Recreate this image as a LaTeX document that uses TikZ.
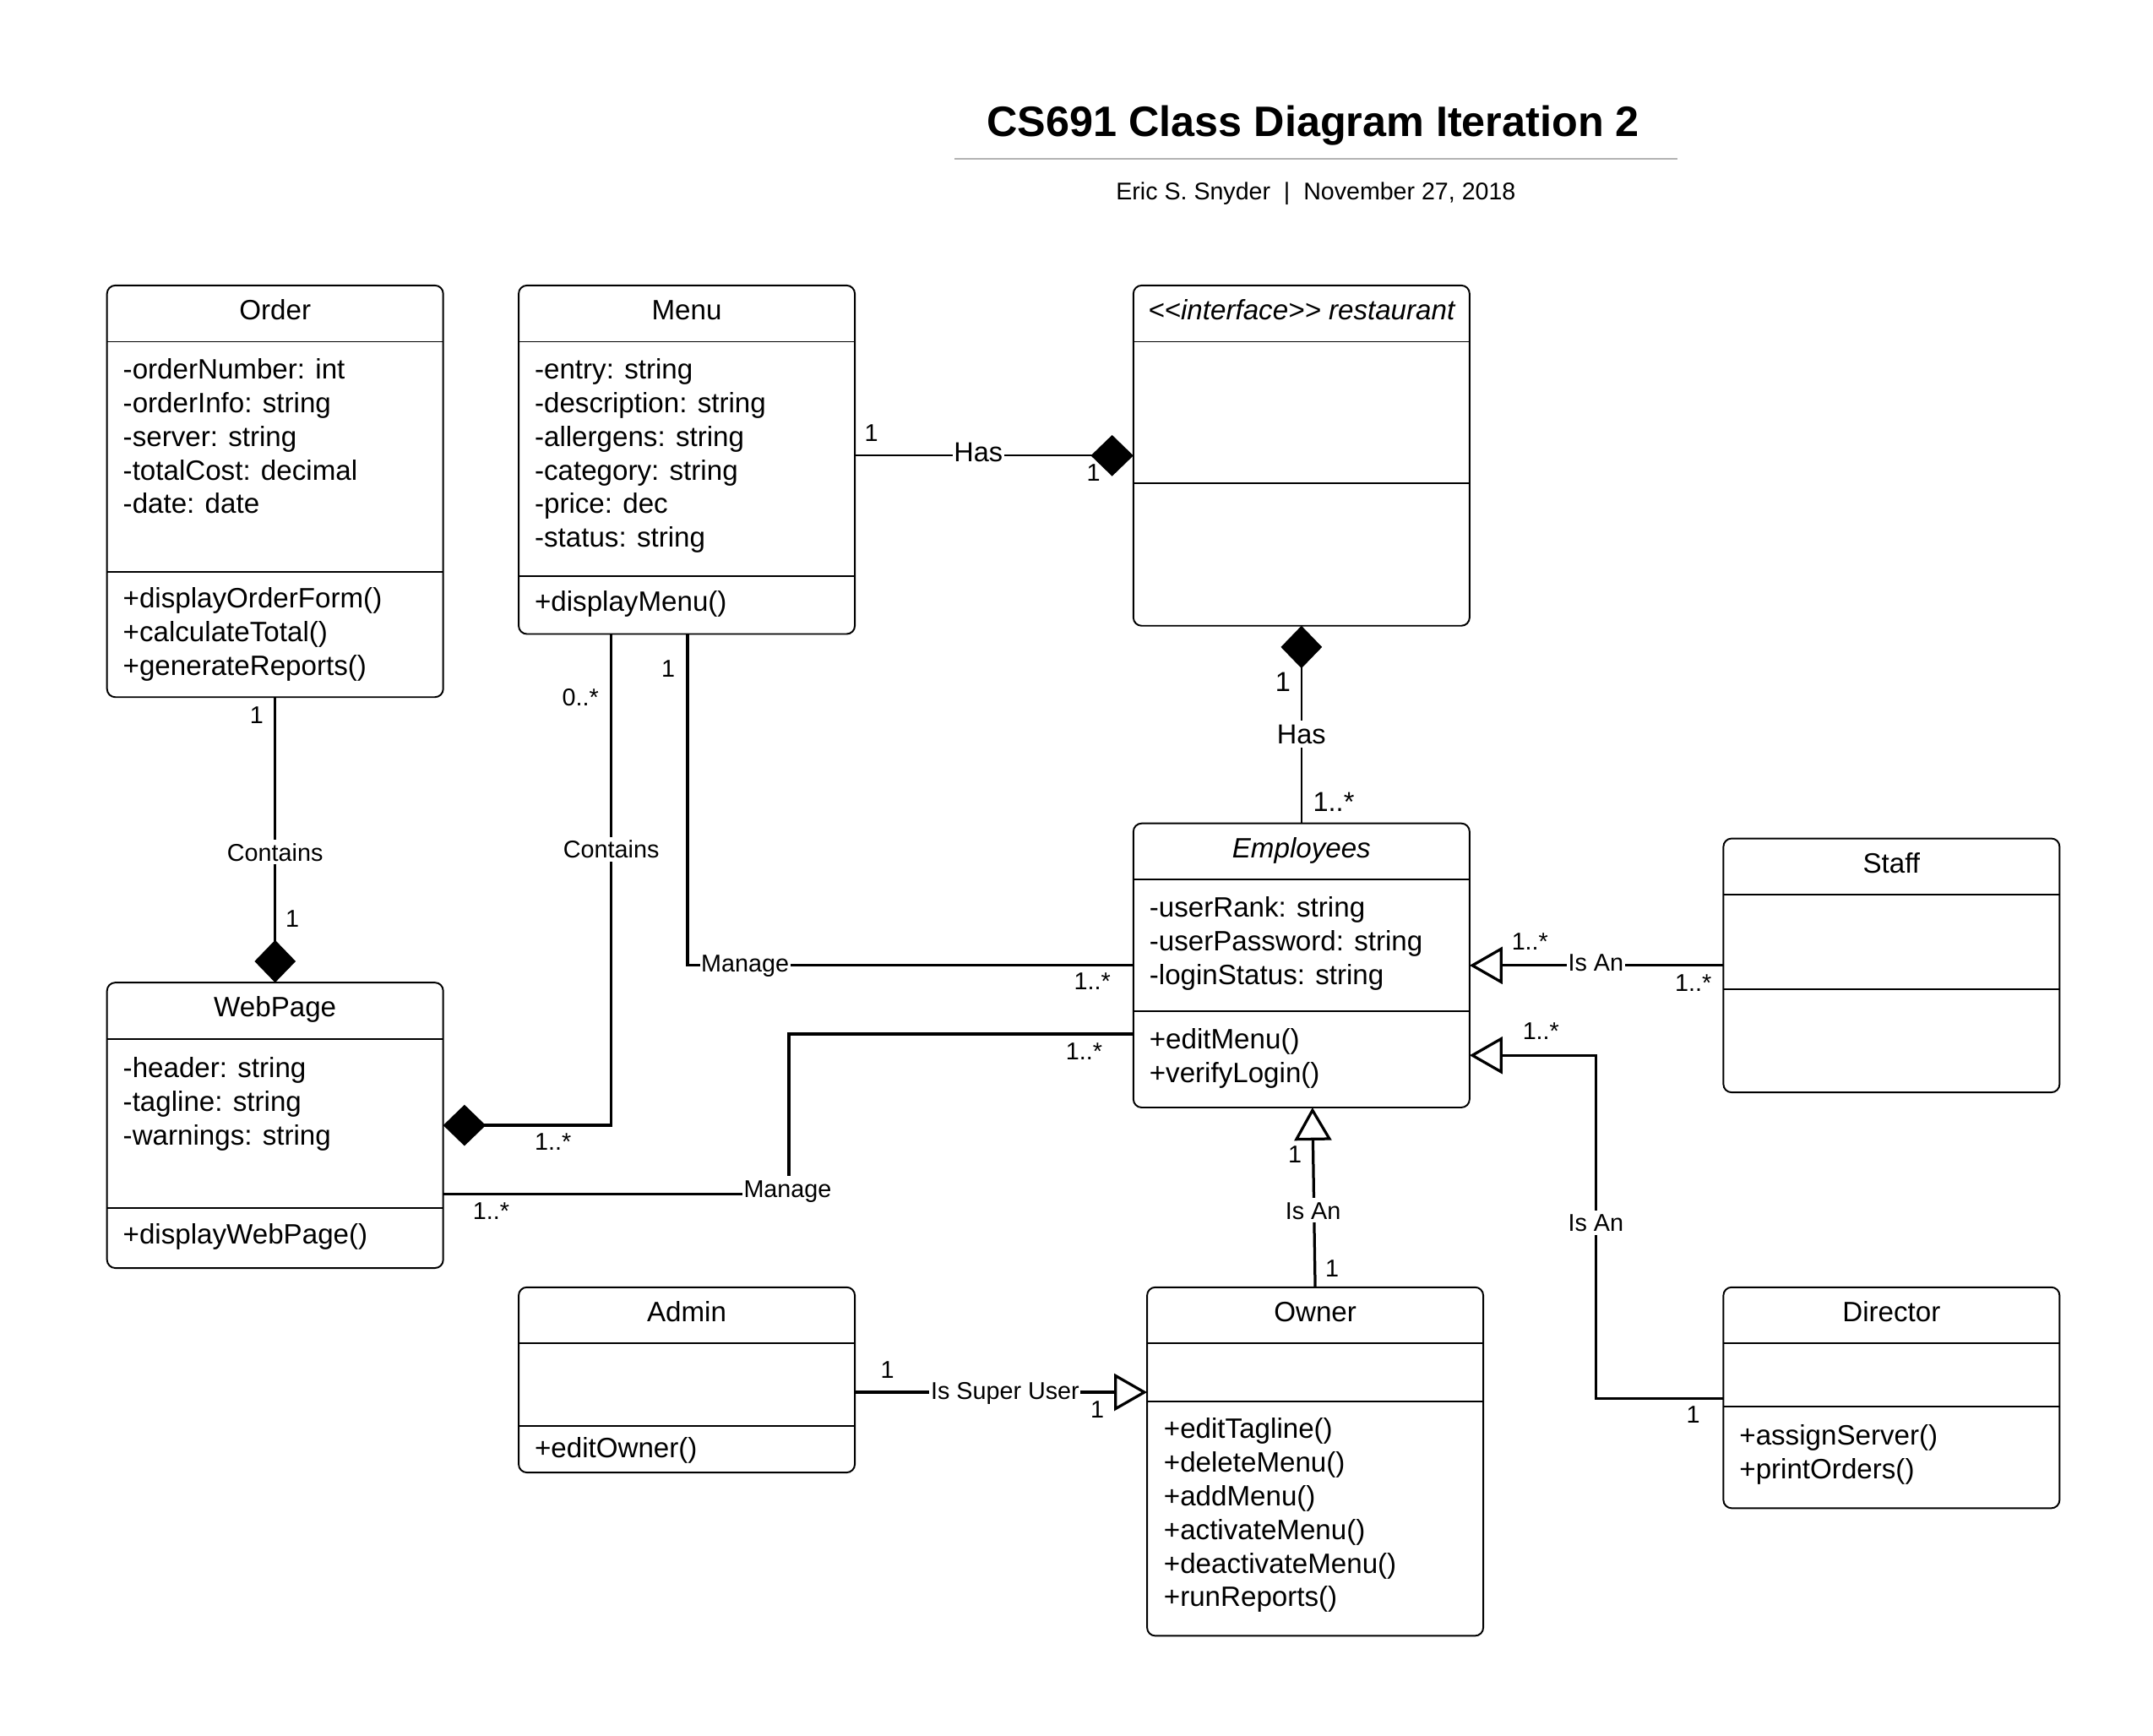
\documentclass[tikz,border=0pt]{standalone}
\usepackage{fontspec}
\setmainfont{Liberation Sans}
\usetikzlibrary{arrows.meta}
\definecolor{rulegray}{RGB}{179,179,179}
\tikzset{
  classbox/.style={draw, line width=1.2pt, rounded corners=6pt, minimum width=245pt, anchor=north west, inner sep=0pt, outer sep=0pt},
  boxline/.style={line width=1.2pt},
  ctitle/.style={anchor=base, inner sep=0pt, font=\fontsize{20.4}{24.5}\selectfont},
  ctext/.style={anchor=north west, align=left, inner sep=0pt, yshift=17.15pt, font=\fontsize{20.4}{24.5}\selectfont},
  conn/.style={line width=2pt},
  thinconn/.style={line width=1.2pt},
  mult/.style={inner sep=0pt, font=\fontsize{17.7}{20}\selectfont, text height=12.7pt, text depth=0pt},
  multbig/.style={inner sep=0pt, font=\fontsize{20}{24}\selectfont, text height=14.3pt, text depth=0pt},
  lbl/.style={mult, fill=white, inner xsep=1pt, inner ysep=2.5pt},
  lblbig/.style={multbig, fill=white, inner xsep=1pt, inner ysep=2.5pt},
  diamondend/.style={-{Diamond[length=31pt,width=30pt]}},
  diamondstart/.style={{Diamond[length=31pt,width=30pt]}-},
  inherit/.style={-{Triangle[open,length=24pt,width=27pt]}},
}
\newcommand{\umlbox}[6]{%
  \node[classbox, minimum height=#4pt] (#1) at (#2,#3) {};
  \draw[boxline] (#1.west |- 0,#5) -- (#1.east |- 0,#5);
  \draw[boxline] (#1.west |- 0,#6) -- (#1.east |- 0,#6);
}
\begin{document}
\begin{tikzpicture}[x=1pt,y=-1pt]
\fill[white] (0,0) rectangle (1569.1,1265);
\useasboundingbox (0,0) rectangle (1569.1,1265);

% title
\node[anchor=base, inner sep=0pt, font=\fontsize{31}{36}\selectfont\bfseries] (title) at (957,99.5) {CS691 Class Diagram Iteration 2};
\draw[rulegray, line width=1.6pt] (695.8,115.8) -- (1222.6,115.8);
\node[anchor=base, inner sep=0pt, font=\fontsize{17.6}{21}\selectfont] (subtitle) at (959,145.7) {Eric S. Snyder\ \ |\ \ November 27, 2018};

% Order
\umlbox{order}{78}{208}{300}{249}{417}
\node[ctitle] (order-t) at (200.5,233) {Order};
\node[ctext] (order-a) at (89.5,276) {\strut-orderNumber: int\\-orderInfo: string\\-server: string\\-totalCost: decimal\\-date: date};
\node[ctext] (order-m) at (89.5,443) {\strut+displayOrderForm()\\+calculateTotal()\\+generateReports()};

% Menu
\umlbox{menu}{378}{208}{254}{249}{420}
\node[ctitle] (menu-t) at (500.5,233) {Menu};
\node[ctext] (menu-a) at (389.5,276) {\strut-entry: string\\-description: string\\-allergens: string\\-category: string\\-price: dec\\-status: string};
\node[ctext] (menu-m) at (389.5,445) {\strut+displayMenu()};

% restaurant interface
\umlbox{rest}{826}{208}{248}{249}{352}
\node[ctitle, font=\fontsize{20.4}{24.5}\selectfont\itshape] (rest-t) at (948.5,233) {<\kern0pt<interface>\kern0pt> restaurant};

% Employees
\umlbox{emp}{826}{600}{207}{641}{737}
\node[ctitle, font=\fontsize{20.4}{24.5}\selectfont\itshape] (emp-t) at (948.5,625) {Employees};
\node[ctext] (emp-a) at (837.5,668) {\strut-userRank: string\\-userPassword: string\\-loginStatus: string};
\node[ctext] (emp-m) at (837.5,764) {\strut+editMenu()\\+verifyLogin()};

% Staff
\umlbox{staff}{1256}{611}{185}{652}{721}
\node[ctitle] (staff-t) at (1378.5,636) {Staff};

% WebPage
\umlbox{web}{78}{716}{208}{757}{880}
\node[ctitle] (web-t) at (200.5,741) {WebPage};
\node[ctext] (web-a) at (89.5,785) {\strut-header: string\\-tagline: string\\-warnings: string};
\node[ctext] (web-m) at (89.5,906) {\strut+displayWebPage()};

% Admin
\umlbox{admin}{378}{938}{135}{979}{1039}
\node[ctitle] (admin-t) at (500.5,963) {Admin};
\node[ctext] (admin-m) at (389.5,1062) {\strut+editOwner()};

% Owner
\umlbox{owner}{836}{938}{254}{979}{1021}
\node[ctitle] (owner-t) at (958.5,963) {Owner};
\node[ctext] (owner-m) at (848,1048) {\strut+editTagline()\\+deleteMenu()\\+addMenu()\\+activateMenu()\\+deactivateMenu()\\+runReports()};

% Director
\umlbox{dir}{1256}{938}{161}{979}{1025}
\node[ctitle] (dir-t) at (1378.5,963) {Director};
\node[ctext] (dir-m) at (1267.5,1053) {\strut+assignServer()\\+printOrders()};

% connectors
\draw[thinconn, diamondend] (menu.east |- 0,332) -- (rest.west |- 0,332);
\draw[thinconn, diamondstart] (rest.south) -- (emp.north);
\draw[conn, diamondend] (order.south) -- (web.north);
\draw[conn, diamondend] (menu.south -| 445.5,0) |- (web.east |- 0,820);
\draw[conn] (menu.south -| 501,0) |- (emp.west |- 0,703.5);
\draw[conn] (web.east |- 0,870) -- (575,870) |- (emp.west |- 0,753.5);
\draw[conn, inherit] (staff.west |- 0,703.5) -- (emp.east |- 0,703.5);
\draw[conn, inherit] (dir.west |- 0,1019) -- (1163,1019) |- (emp.east |- 0,769);
\draw[conn, inherit] (owner.north -| 958.5,0) -- (emp.south -| 956.5,0);
\draw[conn, inherit] (admin.east |- 0,1014.5) -- (owner.west |- 0,1014.5);

% labels
\node[mult] (m1) at (635,315) {1};
\node[lblbig] (lhas1) at (713,329.5) {Has};
\node[mult] (m2) at (797,344) {1};
\node[multbig] (m3) at (935,497) {1};
\node[lblbig] (lhas2) at (948.5,535) {Has};
\node[multbig] (m4) at (972,584) {1..*};
\node[mult] (m5) at (187,521) {1};
\node[lbl] (lcont1) at (200.5,621) {Contains};
\node[mult] (m6) at (213,669) {1};
\node[mult] (m7) at (423,508) {0..*};
\node[lbl] (lcont2) at (445.5,619) {Contains};
\node[mult] (m8) at (403,832) {1..*};
\node[mult] (m9) at (487,487) {1};
\node[lbl] (lman1) at (543,702) {Manage};
\node[mult] (m10) at (796,715) {1..*};
\node[lbl] (lman2) at (574,866) {Manage};
\node[mult] (m11) at (358,882) {1..*};
\node[mult] (m12) at (790,766) {1..*};
\node[mult] (m13) at (1115,686) {1..*};
\node[lbl] (lis1) at (1163,701.5) {Is An};
\node[mult] (m14) at (1234,716) {1..*};
\node[mult] (m15) at (1123,751) {1..*};
\node[lbl] (lis2) at (1163,891) {Is An};
\node[mult] (m16) at (1234,1030.5) {1};
\node[mult] (m17) at (943.8,841) {1};
\node[lbl] (lis3) at (957,882) {Is An};
\node[mult] (m18) at (970.8,924) {1};
\node[mult] (m19) at (646.7,998) {1};
\node[lbl] (lsup) at (732.5,1013.5) {Is Super User};
\node[mult] (m20) at (799.7,1027) {1};
\end{tikzpicture}
\end{document}
